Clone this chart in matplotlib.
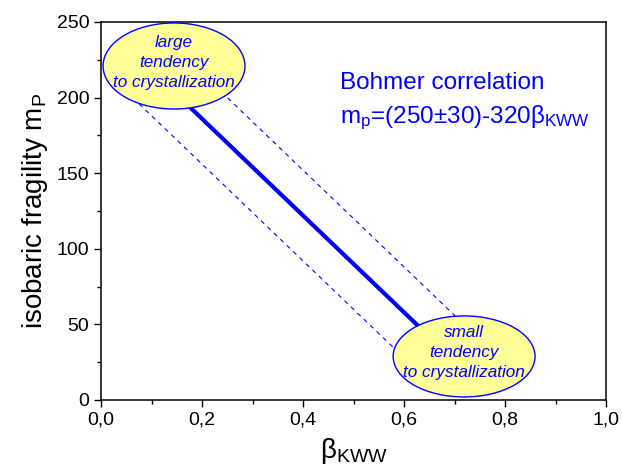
import matplotlib
matplotlib.use("Agg")
import matplotlib.pyplot as plt
from matplotlib.patches import Ellipse
import numpy as np

plt.rcParams['font.family'] = ['Liberation Sans', 'DejaVu Sans']
plt.rcParams['mathtext.fontset'] = 'custom'
plt.rcParams['mathtext.rm'] = 'Liberation Sans'
plt.rcParams['mathtext.it'] = 'Liberation Sans:italic'

# Bohmer correlation: m_p = (250 +/- 30) - 320 * beta_KWW
intercept = 250
spread = 30
slope = -320

# beta ranges of the three lines (ends hidden under the ellipses)
beta_main = [0.10, 0.70]
beta_upper = [0.20, 0.75]
beta_lower = [0.05, 0.62]

x_ticks = [0.0, 0.2, 0.4, 0.6, 0.8, 1.0]
x_tick_labels = ['0,0', '0,2', '0,4', '0,6', '0,8', '1,0']
y_ticks = [0, 50, 100, 150, 200, 250]

# annotation ellipses: (beta, m) centre, width, height, text
ell_centers = [(0.1446, 220.9), (0.719, 28.8)]
ell_widths = [0.281, 0.281]
ell_heights = [56.9, 53.6]
ell_texts = ['large\ntendency\nto crystallization',
             'small\ntendency\nto crystallization']

blue = '#0000FF'

fig = plt.figure(figsize=(6.22, 4.75), dpi=100)
ax = fig.add_axes([0.1624, 0.1579, 0.8119, 0.7958])


def line(b, a):
    b = np.array(b)
    return b, a + slope * b


ax.plot(*line(beta_main, intercept), color=blue, lw=3, zorder=2)
ax.plot(*line(beta_upper, intercept + spread), color=blue, lw=0.8,
        dashes=(4, 4), zorder=2)
ax.plot(*line(beta_lower, intercept - spread), color=blue, lw=0.8,
        dashes=(4, 4), zorder=2)

for (cx, cy), w, h, txt in zip(ell_centers, ell_widths, ell_heights, ell_texts):
    ax.add_patch(Ellipse((cx, cy), w, h, facecolor='#FFFF99',
                         edgecolor=blue, lw=1, zorder=3))
    ax.text(cx, cy + 2.5, txt, color=blue, fontsize=12.3, style='italic',
            ha='center', va='center', multialignment='center',
            linespacing=1.4, zorder=4)

ax.text(0.473, 206, 'Bohmer correlation', color=blue, fontsize=17.5,
        ha='left', va='baseline')
ax.text(0.473, 183, r'm$_\mathrm{p}$=(250±30)-320β$_\mathrm{KWW}$',
        color=blue, fontsize=17.5, ha='left', va='baseline')

ax.set_xlim(0, 1)
ax.set_ylim(0, 250)
ax.set_xticks(x_ticks)
ax.set_xticklabels(x_tick_labels)
ax.set_yticks(y_ticks)
ax.set_xticks(np.arange(0.1, 1.0, 0.2), minor=True)
ax.set_yticks(np.arange(25, 250, 50), minor=True)
ax.tick_params(which='both', direction='out', labelsize=14,
               top=False, right=False, width=1)
ax.tick_params(which='major', length=5)
ax.tick_params(which='minor', length=3)
for s in ax.spines.values():
    s.set_linewidth(1.1)

ax.set_xlabel(r'$\mathrm{β_{KWW}}$', fontsize=20, labelpad=5)
ax.set_ylabel(r'isobaric fragility m$_\mathrm{P}$', fontsize=20, labelpad=5)

fig.savefig('out.png', dpi=100)
